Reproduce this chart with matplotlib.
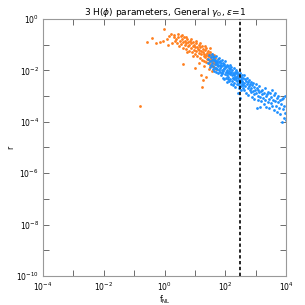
import matplotlib
matplotlib.use('Agg')
import matplotlib.pyplot as plt
from matplotlib.ticker import NullFormatter
import numpy as np

# log10(f_NL), log10(r)
orange_lx = [-0.81, -0.59, -0.40, -0.29, -0.15, -0.04, -0.02, 0.09, 0.20, 0.62, 1.00, 1.20, 1.36, 1.25, 1.24,
             0.15, 0.25, 0.30, 0.35, 0.10,
             0.32, 0.38, 0.42, 0.45, 0.48, 0.50, 0.53, 0.55, 0.58, 0.60, 0.62, 0.64, 0.66, 0.68, 0.70, 0.72,
             0.74, 0.76, 0.78, 0.80, 0.82, 0.84, 0.86, 0.88, 0.90, 0.92, 0.94, 0.96, 0.98, 1.00, 1.01, 1.03,
             1.05, 1.07, 1.08, 1.10, 1.12, 1.13, 1.15, 1.16, 1.18, 1.20, 1.21, 1.23, 1.24, 1.26, 1.27, 1.29,
             1.30, 1.31, 1.33, 1.34, 1.36, 1.37, 1.38, 1.40, 1.41, 1.42, 1.44, 1.45, 1.46, 1.47, 1.48, 1.50,
             1.51, 1.52, 1.53, 1.54, 1.56, 1.57, 1.58, 1.59, 1.60, 1.62, 1.63, 1.64, 1.65, 1.66, 1.68, 1.70,
             0.44, 0.58, 0.70, 0.86, 1.02, 1.18, 1.34, 1.50, 0.95, 1.15, 1.30, 1.45, 0.75, 1.55]
orange_lr = [-3.39, -0.88, -0.75, -0.95, -0.88, -0.86, -0.40, -0.78, -0.60, -1.75, -1.92, -2.18, -2.24, -2.37, -2.63,
             -0.68, -0.95, -0.72, -0.85, -1.02,
             -0.62, -0.78, -0.92, -0.70, -1.05, -0.84, -0.66, -0.98, -0.80, -1.12, -0.90, -0.72, -1.00, -0.86, -1.18, -0.95,
             -0.78, -1.06, -0.88, -1.25, -1.00, -0.84, -1.12, -0.95, -1.30, -1.05, -0.90, -1.20, -1.02, -1.38, -1.10, -0.95,
             -1.25, -1.08, -1.45, -1.16, -1.00, -1.32, -1.20, -1.52, -1.10, -1.38, -1.26, -1.05, -1.58, -1.30, -1.18, -1.45,
             -1.36, -1.62, -1.22, -1.50, -1.40, -1.15, -1.68, -1.32, -1.55, -1.45, -1.25, -1.72, -1.38, -1.60, -1.50, -1.30,
             -1.78, -1.42, -1.65, -1.55, -1.36, -1.82, -1.48, -1.70, -1.58, -1.42, -1.88, -1.62, -1.75, -1.52, -1.95, -1.68,
             -0.58, -0.62, -0.70, -0.80, -0.86, -0.95, -1.05, -1.15, -1.45, -1.70, -1.85, -1.95, -1.30, -2.02]

blue_lx = [1.42, 1.44, 1.46, 1.48, 1.50, 1.52, 1.53, 1.55, 1.56, 1.58, 1.59, 1.60,
           1.61, 1.62, 1.63, 1.64, 1.65, 1.66, 1.67, 1.68, 1.69, 1.70, 1.71, 1.72, 1.73, 1.74, 1.75, 1.76, 1.77, 1.78, 1.79, 1.80,
           1.81, 1.82, 1.83, 1.84, 1.85, 1.86, 1.87, 1.88, 1.89, 1.90, 1.91, 1.92, 1.93, 1.94, 1.95, 1.96, 1.97, 1.98, 1.99, 2.00,
           2.01, 2.02, 2.03, 2.04, 2.05, 2.06, 2.07, 2.08, 2.09, 2.10, 2.11, 2.12, 2.13, 2.14, 2.15, 2.16, 2.17, 2.18, 2.19, 2.20,
           2.21, 2.22, 2.23, 2.24, 2.25, 2.26, 2.27, 2.28, 2.29, 2.30, 2.31, 2.32, 2.33, 2.34, 2.35, 2.36, 2.37, 2.38, 2.39, 2.40,
           2.41, 2.42, 2.43, 2.44, 2.45, 2.46, 2.47, 2.48, 2.49, 2.50, 2.51, 2.52, 2.53, 2.54, 2.55, 2.56, 2.57, 2.58, 2.59, 2.60,
           2.61, 2.63, 2.64, 2.66, 2.67, 2.69, 2.70, 2.72, 2.73, 2.75, 2.76, 2.78, 2.79, 2.80,
           2.81, 2.83, 2.84, 2.86, 2.87, 2.89, 2.90, 2.92, 2.93, 2.95, 2.96, 2.98, 3.00,
           3.01, 3.03, 3.04, 3.06, 3.07, 3.09, 3.10, 3.12, 3.14, 3.15, 3.17, 3.19, 3.20,
           3.22, 3.24, 3.26, 3.27, 3.29, 3.31, 3.33, 3.35, 3.37, 3.39,
           3.41, 3.43, 3.45, 3.47, 3.49, 3.51, 3.53, 3.55, 3.57, 3.59,
           3.61, 3.63, 3.65, 3.67, 3.69, 3.71, 3.73, 3.75, 3.77, 3.79,
           3.81, 3.83, 3.85, 3.87, 3.89, 3.90, 3.92, 3.94, 3.96, 3.98, 3.99,
           1.55, 1.65, 1.75, 1.85, 1.95, 2.05, 2.15, 2.25, 2.35, 2.45, 2.55, 1.70, 1.90, 2.10, 2.30, 2.50]
blue_lr = [-1.55, -1.72, -1.40, -1.88, -1.62, -1.48, -1.80, -1.36, -1.70, -1.95, -1.55, -1.45,
           -1.82, -1.60, -2.02, -1.50, -1.75, -1.90, -1.58, -1.68, -2.08, -1.45, -1.80, -1.62, -1.95, -1.72, -1.55, -2.12, -1.85, -1.66, -1.98, -1.52,
           -1.78, -2.05, -1.65, -1.92, -2.20, -1.72, -1.85, -2.10, -1.60, -1.98, -2.28, -1.80, -1.70, -2.02, -1.90, -2.35, -1.75, -2.15, -1.85, -1.65,
           -2.08, -1.88, -2.30, -1.78, -2.18, -1.98, -2.45, -1.85, -2.10, -2.25, -1.92, -2.02, -2.40, -1.80, -2.15, -2.32, -1.95, -2.08, -2.52, -1.88,
           -2.20, -2.40, -2.00, -2.28, -2.58, -2.10, -1.92, -2.35, -2.18, -2.48, -2.05, -2.25, -2.65, -2.12, -2.00, -2.38, -2.55, -2.22, -2.08, -2.42,
           -2.30, -2.89, -2.15, -2.50, -2.38, -2.68, -2.10, -3.09, -2.45, -2.25, -2.60, -2.35, -2.78, -2.20, -2.52, -2.40, -2.70, -2.28, -2.58, -2.18,
           -2.48, -2.75, -2.32, -2.62, -2.40, -2.88, -2.55, -2.30, -2.70, -2.45, -2.95, -2.60, -2.38, -2.78,
           -2.52, -2.85, -2.45, -2.70, -3.02, -2.58, -2.80, -2.48, -2.92, -2.65, -3.10, -2.75, -2.55,
           -2.90, -3.47, -2.68, -2.98, -2.75, -3.15, -2.85, -2.62, -3.41, -3.02, -2.80, -3.20, -2.92,
           -2.78, -3.08, -3.30, -2.88, -3.15, -2.70, -3.00, -3.42, -2.92, -3.22,
           -2.85, -3.10, -3.48, -2.89, -3.28, -3.05, -2.78, -3.38, -3.15, -2.95,
           -3.55, -3.20, -2.90, -3.40, -3.08, -3.62, -3.25, -3.00, -3.48, -3.15,
           -3.70, -3.30, -4.00, -3.10, -3.52, -3.09, -3.85, -3.38, -3.00, -3.65, -3.92,
           -1.58, -1.65, -1.78, -1.82, -1.95, -2.05, -2.12, -2.30, -2.30, -2.58, -2.45, -1.92, -2.12, -2.35, -2.15, -2.40]

fnl_line = 300.0

plt.rcParams['font.family'] = 'DejaVu Sans'
fig = plt.figure(figsize=(3.05, 3.05), dpi=100)
ax = fig.add_axes([0.141, 0.095, 0.797, 0.843])

ax.scatter(10**np.array(orange_lx), 10**np.array(orange_lr), s=4, color='#ff7f1e', lw=0, zorder=2)
ax.scatter(10**np.array(blue_lx), 10**np.array(blue_lr), s=4, color='#1e90ff', lw=0, zorder=2)
ax.axvline(fnl_line, color='black', ls=(0, (2, 1.5)), lw=1.2, zorder=3)

ax.set_xscale('log')
ax.set_yscale('log')
ax.set_xlim(1e-4, 1e4)
ax.set_ylim(1e-10, 1e0)
ax.set_xticks([1e-4, 1e-2, 1e0, 1e2, 1e4])
ax.set_yticks([1e-10, 1e-8, 1e-6, 1e-4, 1e-2, 1e0])
ax.set_xticks([1e-3, 1e-1, 1e1, 1e3], minor=True)
ax.set_yticks([1e-9, 1e-7, 1e-5, 1e-3, 1e-1], minor=True)
ax.xaxis.set_minor_formatter(NullFormatter())
ax.yaxis.set_minor_formatter(NullFormatter())
ax.tick_params(which='both', direction='in', top=True, right=True, labelsize=5.5, colors='#555555', labelcolor='black', pad=3)
ax.tick_params(which='major', length=4, width=0.6)
ax.tick_params(which='minor', length=4, width=0.6)
for sp in ax.spines.values():
    sp.set_color('#999999')
    sp.set_linewidth(0.8)

ax.set_title(r'3 H($\phi$) parameters, General $\gamma_0$, $\epsilon$=1', fontsize=6.5, pad=2)
ax.set_xlabel(r'f$_{\rm NL}$', fontsize=5.5, labelpad=1)
ax.set_ylabel('r', fontsize=5.5, rotation=90)
ax.yaxis.set_label_coords(-0.115, 0.5)

fig.savefig('out.png', dpi=100)
